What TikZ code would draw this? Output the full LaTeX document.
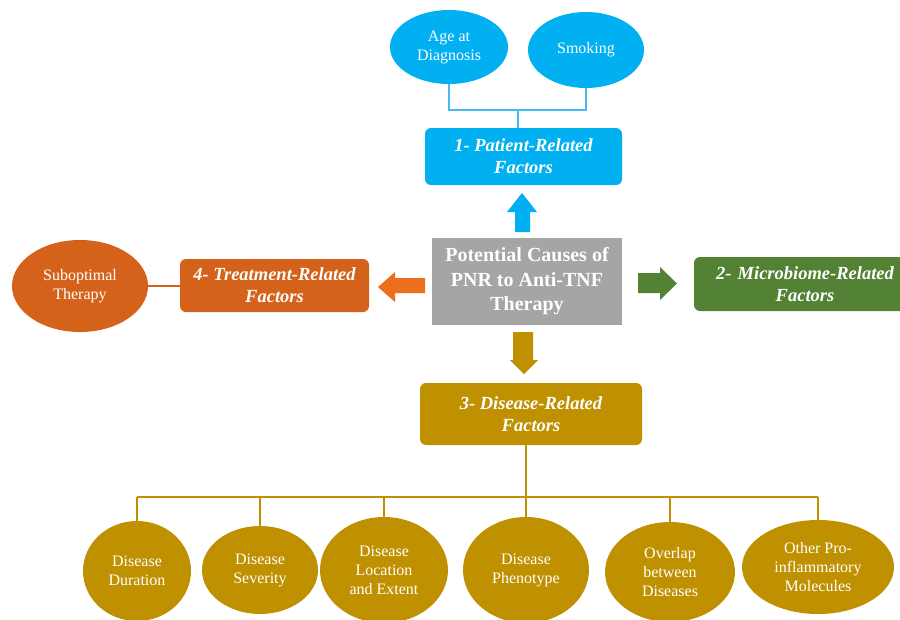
\documentclass[tikz,border=0pt]{standalone}
\usepackage{fontspec}
\setmainfont{Liberation Serif}
\usetikzlibrary{shapes.geometric}
\definecolor{cblue}{HTML}{00B0F0}
\definecolor{clblue}{HTML}{45BDEE}
\definecolor{cgrey}{HTML}{A5A5A5}
\definecolor{cgold}{HTML}{BF9000}
\definecolor{cbrown}{HTML}{D4621A}
\definecolor{corange}{HTML}{EE6E1F}
\definecolor{cgreen}{HTML}{548235}
\tikzset{
  ell/.style={ellipse, draw=none, fill=#1, text=white, align=center, inner sep=0pt,
    font=\fontsize{16}{19}\selectfont},
  fbox/.style={rectangle, rounded corners=6pt, fill=#1, text=white, align=center, inner sep=0pt,
    font=\fontsize{18.5}{22}\selectfont\bfseries\itshape},
  link/.style={draw=#1, line width=2pt},
}
\begin{document}
\begin{tikzpicture}[x=1pt,y=-1pt]
\useasboundingbox (0,0) rectangle (900,619);
\clip (0,0) rectangle (900,619);
\fill[white] (0,0) rectangle (900,619);

% top
\node[ell=cblue, minimum width=118pt, minimum height=74pt] (age) at (449,47) {Age at\\Diagnosis};
\node[ell=cblue, minimum width=116pt, minimum height=76pt] (smoke) at (586,50) {Smoking};
\node[fbox=cblue, minimum width=197pt, minimum height=57pt] (patient) at (523.5,156.5) {1- Patient-Related\\Factors};
\coordinate (tj) at (518,110);
\draw[link=clblue] (age.south) |- (smoke.south |- tj) -- (smoke.south);
\draw[link=clblue] (tj) -- (tj |- patient.north);

% centre
\node[rectangle, fill=cgrey, text=white, align=center, inner sep=0pt,
  minimum width=190pt, minimum height=87pt,
  font=\fontsize{20}{24.5}\selectfont\bfseries] (center) at (527,281.5)
  {Potential Causes of\\PNR to Anti-TNF\\Therapy};

% left
\node[fbox=cbrown, minimum width=189pt, minimum height=53pt] (treat) at (274.5,285.5) {4- Treatment-Related\\Factors};
\node[ell=cbrown, minimum width=136pt, minimum height=92pt] (sub) at (80,286) {Suboptimal\\Therapy};
\draw[link=cbrown] (sub.east) -- (sub.east -| treat.west);

% right
\node[fbox=cgreen, minimum width=222pt, minimum height=54pt, text width=222pt] (micro) at (805,284) {2- Microbiome-Related\\Factors};

% bottom
\node[fbox=cgold, minimum width=222pt, minimum height=62pt] (disease) at (531,414) {3- Disease-Related\\Factors};
\node[ell=cgold, minimum width=108pt, minimum height=100pt] (dur) at (137,571) {Disease\\Duration};
\node[ell=cgold, minimum width=116pt, minimum height=88pt] (sev) at (260,570) {Disease\\Severity};
\node[ell=cgold, minimum width=128pt, minimum height=106pt] (loc) at (384,570) {Disease\\Location\\and Extent};
\node[ell=cgold, minimum width=126pt, minimum height=106pt] (phe) at (526,570) {Disease\\Phenotype};
\node[ell=cgold, minimum width=130pt, minimum height=100pt] (ovl) at (670,572) {Overlap\\between\\Diseases};
\node[ell=cgold, minimum width=152pt, minimum height=94pt] (oth) at (818,567) {Other Pro-\\inflammatory\\Molecules};
\coordinate (bus) at (526,497);
\draw[link=cgold] (dur.north |- bus) -- (oth.north |- bus);
\draw[link=cgold] (disease.south -| phe.north) -- (phe.north);
\foreach \n in {dur,sev,loc,ovl,oth}{
  \draw[link=cgold] (\n.north |- bus) -- (\n.north);
}

% block arrows
\fill[cblue] (515,232) -- (515,212) -- (507,212) -- (522,193) -- (537,212) -- (530,212) -- (530,232) -- cycle;
\fill[cgold] (513,332) -- (513,360) -- (510,360) -- (524,374) -- (538,360) -- (533,360) -- (533,332) -- cycle;
\fill[corange] (425,278) -- (395,278) -- (395,272) -- (378,287) -- (395,302) -- (395,293) -- (425,293) -- cycle;
\fill[cgreen] (638,273) -- (660,273) -- (660,267) -- (677,283.5) -- (660,300) -- (660,293) -- (638,293) -- cycle;
\end{tikzpicture}
\end{document}
